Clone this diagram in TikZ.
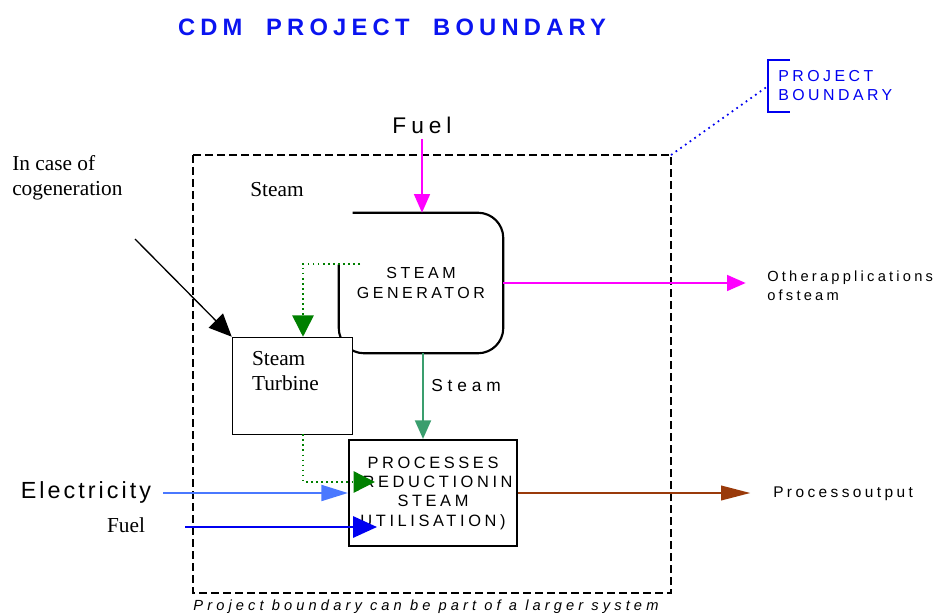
\documentclass[tikz,border=0pt]{standalone}
\usepackage{fontspec}
\setmainfont{Liberation Serif}
\setsansfont{Liberation Sans}
\newfontfamily\widesans[LetterSpace=22]{Liberation Sans}
\newfontfamily\widersans[LetterSpace=28]{Liberation Sans}
\newfontfamily\lightsans[LetterSpace=13]{Liberation Sans}
\usetikzlibrary{arrows.meta,calc,positioning}
\definecolor{titleblue}{HTML}{0A14F0}
\definecolor{fuelpink}{HTML}{FF00FF}
\definecolor{stgreen}{HTML}{008000}
\definecolor{steamgreen}{HTML}{3A9E6E}
\definecolor{elecblue}{HTML}{4A78FF}
\definecolor{fuelblue}{HTML}{0000F0}
\definecolor{outbrown}{HTML}{9A3A0A}

\begin{document}
\begin{tikzpicture}[x=0.75pt, y=-0.75pt,
  tip/.style={-{Triangle[length=14pt,width=12pt]}},
  box/.style={draw, fill=white, inner sep=0pt},
  serif label/.style={font=\fontsize{16}{19}\selectfont, align=left, inner sep=0pt},
  wide label/.style={font=\widesans\fontsize{11}{14.2}\selectfont, align=left, inner sep=0pt},
  box label/.style={font=\widesans\fontsize{12}{14.5}\selectfont, align=center},
  big label/.style={font=\widesans\fontsize{17}{20}\selectfont, inner sep=0pt},
  green dots/.style={draw=stgreen, line width=1.2pt, dash pattern=on 1.2pt off 2.6pt},
]
  \useasboundingbox (0,0) rectangle (937,616);
  \node[font=\widesans\bfseries\fontsize{17.8}{20}\selectfont, text=titleblue] (title) at (392,27) {CDM\ \ PROJECT\ \ BOUNDARY};
  % project boundary
  \coordinate (bnw) at (193,155);
  \coordinate (bse) at (671,593);
  \coordinate (bne) at (671,155);
  \coordinate (brk) at (768,86);
  \draw[line width=1.5pt, dash pattern=on 6pt off 3pt] (bnw) rectangle (bse);
  \draw[fuelblue, line width=1.3pt, dash pattern=on 1.3pt off 3pt] (bne) -- (brk);
  \draw[fuelblue, line width=1.6pt] (790,60) -- (768,60) -- (768,112) -- (790,112);
  \node[wide label, font=\widesans\fontsize{11.9}{14.2}\selectfont, text=fuelblue, anchor=west] (pbtext) at (778,86) {PROJECT\\BOUNDARY};
  \node[font=\widersans\itshape\fontsize{11}{12}\selectfont, inner sep=0pt] (note) at (426,607) {Project boundary can be part of a larger system};
  % units
  \node[minimum width=123pt, minimum height=105pt, box label] (gen) at (421,283) {STEAM\\GENERATOR};
  \draw[line width=1.6pt, rounded corners=19pt] ($(gen.north west)+(14,0)$) -- (gen.north east)
    -- (gen.south east) -- (gen.south west) -- ($(gen.south west)!0.63!(gen.north west)$);
  \node[box, minimum width=90pt, minimum height=72.75pt] (turb) at (292,385.5) {};
  \node[serif label, anchor=north west] (turbtxt) at ($(turb.north west)+(20,14)$) {Steam\\Turbine};
  \node[box, line width=1.6pt, minimum width=126pt, minimum height=79.5pt, box label,
    font=\widesans\fontsize{12.3}{14.5}\selectfont] (proc) at (433,493)
    {PROCESSES\\(REDUCTIONIN\\STEAM\\UTILISATION)};
  % labels
  \node[big label] (fuel) at (422,125) {Fuel};
  \node[serif label] (steam) at (277,190) {Steam};
  \node[serif label, anchor=north west] (cogen) at (12,155) {In case of\\cogeneration};
  \node[font=\widersans\fontsize{13}{14}\selectfont, inner sep=0pt] (steamlbl) at (466,386) {Steam};
  \node[wide label, anchor=west] (other) at (767,286) {Otherapplications\\ofsteam};
  \node[wide label, font=\widesans\fontsize{11.6}{14}\selectfont, anchor=west] (procout) at (773,494) {Processoutput};
  \node[font=\lightsans\fontsize{17.5}{20}\selectfont, inner sep=0pt] (elec) at (86,492) {Electricity};
  \node[serif label] (fuel2) at (126,525) {Fuel};
  \coordinate (cogenin) at (135,239);
  \coordinate (gsteam) at (360,264);
  \coordinate (fuelin) at (377,527);
  % flows
  \draw[tip, fuelpink, line width=1.2pt] ([yshift=-4pt]fuel.south) -- (fuel.south |- gen.north);
  \draw[tip, fuelpink, line width=1.2pt] (gen.east) -- (gen.east -| other.west) [shorten >=16pt];
  \draw[-{Triangle[length=17pt,width=15pt]}, line width=1pt] (cogenin) -- (turb.north west);
  \draw[green dots, -{Triangle[length=16pt,width=16pt]}] (gsteam) -| ([xshift=8.25pt]turb.north);
  \draw[green dots, -{Triangle[length=16pt,width=16pt]}] ([xshift=8.25pt]turb.south) |- ($(proc.west)+(27,-11)$);
  \draw[tip, steamgreen, line width=1.6pt] ([xshift=1.5pt]gen.south) -- ([xshift=1.5pt]gen.south |- proc.north);
  \draw[-{Triangle[length=20pt,width=12pt]}, elecblue, line width=1.6pt] ([xshift=9pt]elec.east |- proc.west) -- (proc.west);
  \draw[-{Triangle[length=18pt,width=16pt]}, fuelblue, line width=1.6pt] ([xshift=30pt]fuel2.east |- fuelin) -- (fuelin);
  \draw[-{Triangle[length=22pt,width=11pt]}, outbrown, line width=1.3pt] (proc.east) -- (proc.east -| procout.west) [shorten >=17pt];
\end{tikzpicture}
\end{document}
